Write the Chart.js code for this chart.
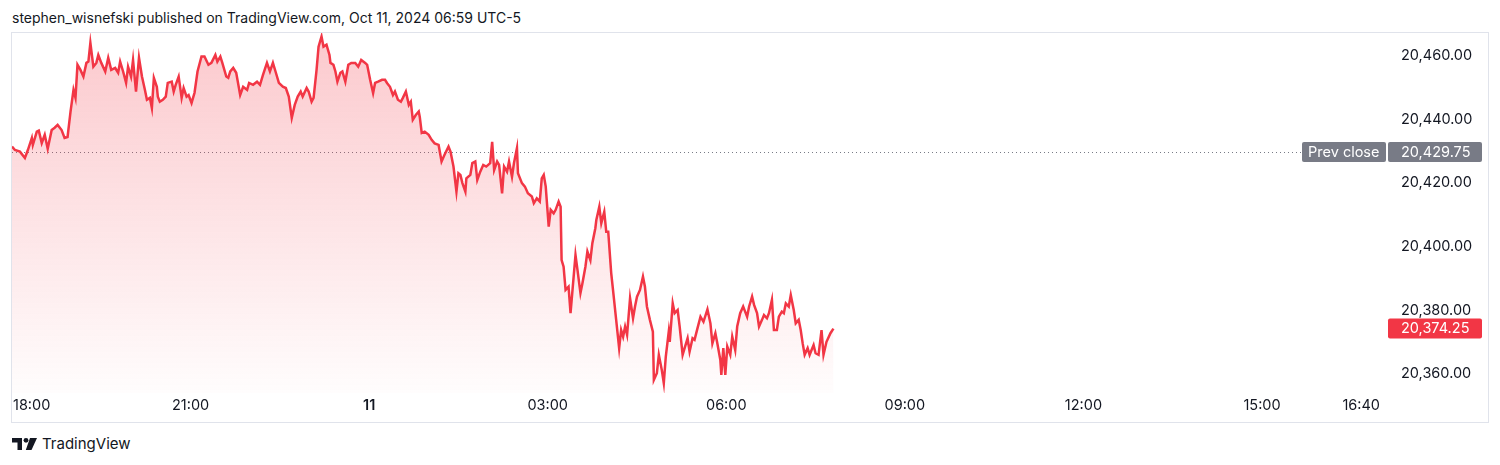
<!DOCTYPE html>
<html lang="en">
<head>
  <meta charset="UTF-8" />
  <title>NQ1! intraday</title>
  <script src="https://cdn.jsdelivr.net/npm/chart.js@4.4.1/dist/chart.umd.min.js"></script>
  <style>
    html, body { margin: 0; padding: 0; background: #fff; }
    body { width: 1500px; height: 465px; position: relative; overflow: hidden;
           font-family: Inter, "Noto Sans", sans-serif; color: #131722; }
    #hdr { position: absolute; left: 12px; top: 9px; font-size: 14px; white-space: nowrap; }
    #frame { position: absolute; left: 11px; top: 32px; width: 1476px; height: 389px; border: 1px solid #e0e3eb; }
    #wrap { position: absolute; left: 12px; top: 33px; width: 1476px; height: 389px; }
    #brand { position: absolute; left: 12px; top: 434px; display: flex; align-items: center; gap: 4px;
             font-size: 15px; }
  </style>
</head>
<body>
  <div id="hdr">stephen_wisnefski published on TradingView.com, Oct 11, 2024 06:59 UTC-5</div>
  <div id="frame"></div>
  <div id="wrap"><canvas id="chart" width="1476" height="389"></canvas></div>
  <div id="brand">
    <svg width="26" height="14" viewBox="0 0 26 14">
      <path d="M0 1 H10 V13 H5.5 V5.5 H0 Z" fill="#131722"/>
      <circle cx="14" cy="3.3" r="2.4" fill="#131722"/>
      <path d="M18 1 H25 L19.5 13 H13.8 Z" fill="#131722"/>
    </svg>
    <span>TradingView</span>
  </div>

  <script>
    // minutes after 18:00 (Oct 10) and last price
    const minutes = [
      0,3,8,13,16,20,21,25,27,30,33,36,40,43,46,50,53,56,59,62,64,66,69,72,75,77,79,82,85,87,90,94,97,100,104,107,109,112,115,117,120,122,125,128,
      131,134,136,139,141,143,146,147,149,152,155,157,161,163,165,168,171,173,176,178,181,184,187,191,194,198,201,205,207,210,212,216,218,220,223,226,230,233,237,239,243,247,250,253,257,260,263,266,269,273,276,279,
      282,285,288,291,293,297,299,302,304,307,309,312,314,317,320,321,324,326,328,331,333,336,339,342,346,349,352,356,358,361,364,366,369,373,376,378,381,384,386,389,392,394,397,400,402,404,407,410,411,
      413,416,420,423,426,430,433,436,440,442,445,448,450,452,454,457,458,462,464,467,469,472,475,478,482,484,486,489,491,494,496,499,501,504,506,509,510,514,517,520,524,526,529,532,534,536,538,541,543,546,548,551,553,
      554,556,558,561,563,565,568,570,573,575,578,580,583,585,588,589,592,594,597,599,601,604,606,609,612,614,616,618,620,623,626,628,630,633,636,638,640,643,646,647,650,652,655,657,659,662,663,666,668,671,673,676,678,681,683,686,688,691,694,
      697,701,704,706,709,711,714,715,717,719,721,724,726,729,731,734,737,739,741,743,746,748,751,753,756,758,761,763,766,768,771,773,776,778,780,783,785,788,790,793,795,797,799,802,804,808,810,813,816,818,821,825,828
    ];
    const prices = [
      20431.5,20430.4,20429.9,20427.9,20430.4,20434.2,20432,20436.2,20436.5,20432.6,20435.2,20430.8,20436.7,20437.4,20438.3,20436.7,20434.2,20434.5,20442.5,20449.3,20446.8,20457.2,20455.6,20453.5,20457.8,20458.2,20464.1,20456.6,20457.8,20460.3,20457.8,20455.1,20459.4,20455.6,20456.2,20454.7,20458.2,20455.1,20451.5,20456.6,20453.5,20458.7,20448.8,20459.4,
      20453.5,20449.3,20446.2,20446.8,20443.6,20453.1,20450.3,20447.2,20445.6,20446.2,20447.2,20451.5,20451.9,20448.8,20450.9,20453.5,20446.8,20449.9,20447.2,20447.7,20445.2,20448.4,20455.1,20459.8,20459.8,20457.2,20457.8,20460.3,20458.2,20459.8,20457.8,20453.5,20453.1,20455.1,20456.2,20454.7,20447.7,20450.3,20449.3,20451.5,20450.9,20451.9,20450.9,20454,20457.8,20455.1,20457.8,20454.7,20451.5,20450.3,20449.9,20447.2,
      20440.5,20444.6,20447.2,20448.8,20447.2,20449.9,20448.8,20445.6,20446.8,20455.6,20462.9,20466.1,20462.9,20463.5,20460.3,20457.8,20457.2,20455.1,20451.9,20454.7,20455.1,20451.9,20457.2,20457.8,20457.8,20456.6,20458.7,20457.8,20457.2,20452.5,20448.3,20451.5,20451.9,20452.5,20452.5,20451.5,20450.3,20447.7,20448.8,20446.2,20445.6,20446.8,20448.8,20444.6,20445.6,20439.9,20441.4,20442.5,20440.9,
      20435.8,20436.2,20435.2,20433.6,20432.5,20432,20426.8,20428.9,20431.5,20429.9,20425.2,20417.3,20423.1,20422.6,20420,20417.3,20421.5,20422.6,20426.3,20426.8,20421,20423.6,20425.7,20425.2,20426.3,20433,20424.1,20426.8,20425.7,20416.8,20425.2,20423.6,20426.8,20422,20426.3,20431,20423.1,20420,20418.9,20416.8,20415.8,20413.7,20415.2,20414.2,20421.5,20422.6,20418.9,20406.3,20411.6,20410.5,20411.6,20414.2,20412.6,
      20395.8,20393.7,20386.4,20387.4,20379.1,20386.4,20397.4,20392.7,20385.4,20388.5,20393.7,20398.5,20395.8,20401.1,20405.8,20408.4,20412.6,20407.4,20411,20404.7,20404.7,20391.7,20385.9,20377,20368.1,20373.8,20371.7,20374.9,20372.3,20383.8,20377.5,20381.2,20384.3,20386.4,20390.6,20387.4,20381.2,20377,20373.3,20358.1,20360.2,20366,20361.2,20357.1,20365.4,20373.3,20370.1,20382.2,20379.1,20380.1,20374.9,20366,20368.1,20371.2,20367,20371.2,20370.7,20374.4,20378,
      20376.4,20380.3,20375.9,20369.6,20372.8,20369.6,20364.4,20359.7,20368.1,20359.7,20368.6,20366,20371.7,20367.5,20374.9,20379.1,20381.2,20379.6,20378,20381.2,20384.3,20381.7,20379.1,20374.9,20377,20378.5,20377.5,20379.1,20383.3,20373.8,20373.8,20378,20379.6,20379.1,20382.2,20381.2,20384.8,20380.1,20375.9,20377,20373.8,20369.6,20366,20368.1,20366,20369.1,20366.5,20366,20373.8,20366,20370.1,20372.8,20374.25
    ];
    const prevClose = 20429.75;
    const lastPrice = 20374.25;
    const yTicks = [20360, 20380, 20400, 20420, 20440, 20460];
    const timeTicks = [0, 180, 360, 540, 720, 900, 1080, 1260, 1360];
    const timeLabels = ['18:00', '21:00', '11', '03:00', '06:00', '09:00', '12:00', '15:00', '16:40'];

    const RED = '#f23645', GREY = '#787b86', INK = '#131722';
    const FONT = 'Inter, "Noto Sans", sans-serif';
    const fmt = v => v.toLocaleString('en-US', { minimumFractionDigits: 2, maximumFractionDigits: 2 });

    function tag(ctx, x, w, yc, fill, text, tx) {
      ctx.fillStyle = fill;
      ctx.beginPath(); ctx.roundRect(x, yc - 10, w, 20, 2); ctx.fill();
      ctx.fillStyle = '#fff'; ctx.textAlign = 'left'; ctx.textBaseline = 'middle';
      ctx.fillText(text, tx, yc + 0.5);
    }

    const overlay = {
      id: 'overlay',
      beforeDatasetsDraw(chart) {
        const { ctx, chartArea: a, scales: { y } } = chart;
        const py = Math.round(y.getPixelForValue(prevClose)) + 0.5;
        ctx.save();
        ctx.strokeStyle = GREY; ctx.lineWidth = 1; ctx.setLineDash([1, 3]);
        ctx.beginPath(); ctx.moveTo(a.left, py); ctx.lineTo(1289, py); ctx.stroke();
        ctx.restore();
      },
      afterDraw(chart) {
        const { ctx, chartArea: a, scales: { x, y } } = chart;
        ctx.save();
        // time labels
        ctx.fillStyle = INK; ctx.textBaseline = 'middle'; ctx.textAlign = 'center';
        timeTicks.forEach((t, i) => {
          ctx.font = (timeLabels[i] === '11' ? '600 ' : '') + '14.5px ' + FONT;
          const w = ctx.measureText(timeLabels[i]).width;
          let px = x.getPixelForValue(t);
          if (px - w / 2 < a.left + 1) px = a.left + 1 + w / 2;
          ctx.fillText(timeLabels[i], px, a.bottom + 13);
        });
        // price tags
        ctx.font = '14.5px ' + FONT;
        const pc = y.getPixelForValue(prevClose);
        tag(ctx, 1290, 84, pc, GREY, 'Prev close', 1296);
        tag(ctx, a.right, 94, pc, GREY, fmt(prevClose), a.right + 13);
        tag(ctx, a.right, 94, y.getPixelForValue(lastPrice), RED, fmt(lastPrice), a.right + 13);
        ctx.restore();
      }
    };

    new Chart(document.getElementById('chart'), {
      type: 'line',
      data: {
        datasets: [{
          data: minutes.map((m, i) => ({ x: m, y: prices[i] })),
          borderColor: RED,
          borderWidth: 2.5,
          pointRadius: 0,
          tension: 0,
          fill: 'start',
          backgroundColor: c => {
            const a = c.chart.chartArea;
            if (!a) return 'rgba(242,54,69,0.2)';
            const g = c.chart.ctx.createLinearGradient(0, a.top, 0, a.bottom);
            g.addColorStop(0, 'rgba(242,54,69,0.27)');
            g.addColorStop(1, 'rgba(242,54,69,0.01)');
            return g;
          }
        }]
      },
      options: {
        responsive: false,
        animation: false,
        layout: { padding: 0 },
        plugins: { legend: { display: false }, tooltip: { enabled: false } },
        scales: {
          x: {
            type: 'linear', min: 0, max: 1387,
            grid: { display: false, drawTicks: false }, border: { display: false },
            ticks: { display: false },
            afterFit: s => { s.height = 29; s.paddingLeft = 0; s.paddingRight = 0; }
          },
          y: {
            position: 'right', min: 20354, max: 20467.2,
            grid: { display: false, drawTicks: false }, border: { display: false },
            afterBuildTicks: s => { s.ticks = yTicks.map(v => ({ value: v })); },
            ticks: { padding: 13, color: INK, font: { family: FONT, size: 14.5 }, callback: v => fmt(v) },
            afterFit: s => { s.width = 100; s.paddingTop = 0; s.paddingBottom = 0; }
          }
        }
      },
      plugins: [overlay]
    });
  </script>
</body>
</html>
